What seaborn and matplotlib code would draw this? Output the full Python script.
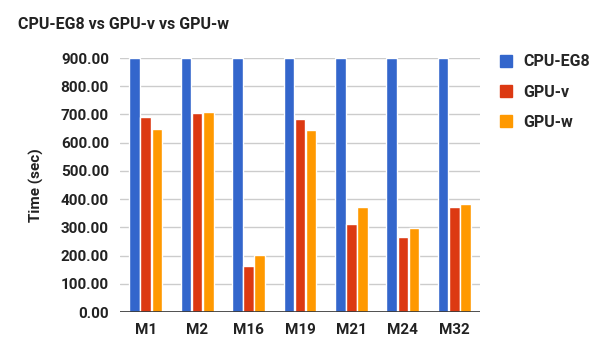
import pandas as pd
import seaborn as sns
import matplotlib.pyplot as plt
from matplotlib.lines import Line2D

# chart data
models = ["M1", "M2", "M16", "M19", "M21", "M24", "M32"]
cpu_eg8 = [900, 900, 900, 900, 900, 900, 900]
gpu_v = [690, 705, 163, 684, 312, 265, 372]
gpu_w = [647, 709, 202, 645, 372, 297, 383]
series = ["CPU-EG8", "GPU-v", "GPU-w"]
colors = ["#3366cc", "#dc3912", "#ff9900"]
y_ticks = [0, 100, 200, 300, 400, 500, 600, 700, 800, 900]

df = pd.DataFrame({"model": models * 3,
                   "series": [s for s in series for _ in models],
                   "time": cpu_eg8 + gpu_v + gpu_w})

sns.set_style("white")
plt.rcParams["font.family"] = ["Roboto", "DejaVu Sans"]

fig = plt.figure(figsize=(6.04, 3.57), dpi=100)
ax = fig.add_axes([120 / 604, 1 - 312 / 357, 360 / 604, 254 / 357])

sns.barplot(data=df, x="model", y="time", hue="series", palette=colors,
            width=0.65, gap=0.04, saturation=1, errorbar=None, ax=ax, zorder=3)

ax.set_ylim(0, 900)
ax.set_yticks(y_ticks)
ax.set_yticklabels(["{:.2f}".format(v) for v in y_ticks])
ax.grid(axis="y", color="#cccccc", linewidth=1, zorder=0)
ax.axhline(0, color="#333333", linewidth=1.2, zorder=4)
for s in ["top", "right", "left", "bottom"]:
    ax.spines[s].set_visible(False)
ax.tick_params(axis="both", length=0, labelsize=11, pad=8)
for lab in ax.get_xticklabels() + ax.get_yticklabels():
    lab.set_fontweight("bold")
    lab.set_color("#222222")

ax.set_xlabel("")
ax.set_ylabel("Time (sec)", fontsize=11, fontweight="bold", color="#222222", labelpad=12)

# legend on the right with square markers
handles = [Line2D([], [], marker="s", linestyle="", markersize=9, color=c) for c in colors]
ax.get_legend().remove()
fig.legend(handles, series, loc="upper left", bbox_to_anchor=(482 / 604, 1 - 40 / 357),
           frameon=False, prop={"weight": "bold", "size": 11.5},
           handletextpad=0.5, labelspacing=0.95, handlelength=1.2)

fig.text(18 / 604, 1 - 29 / 357, "CPU-EG8 vs GPU-v vs GPU-w", fontsize=11.5,
         fontweight="bold", color="#222222")

plt.savefig("out.png", dpi=100)
